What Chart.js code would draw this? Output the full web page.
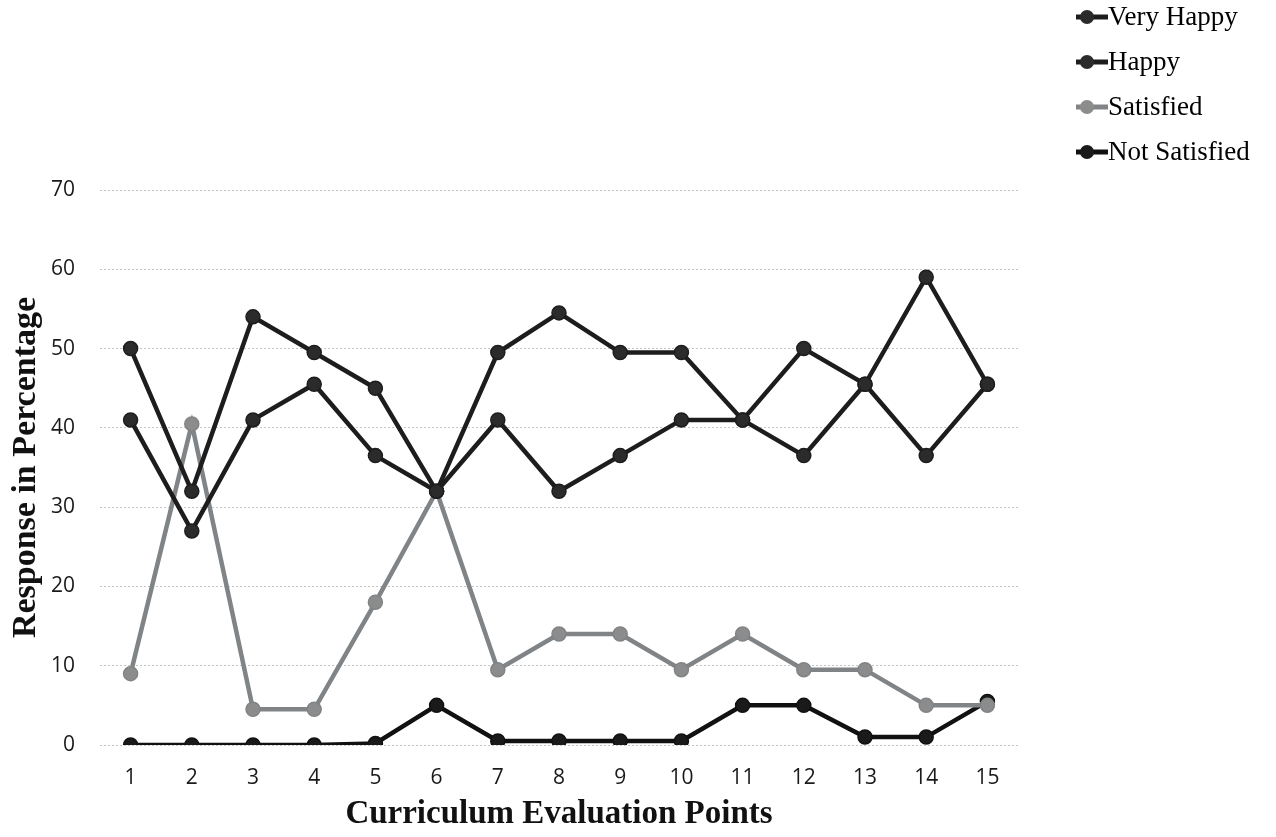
<!DOCTYPE html>
<html>
<head>
<meta charset="utf-8">
<script src="https://cdn.jsdelivr.net/npm/chart.js@4.4.1/dist/chart.umd.min.js"></script>
<style>
  html, body { margin: 0; padding: 0; background: #fff; }
  canvas { display: block; }
</style>
</head>
<body>
<canvas id="chart" width="1276" height="837"></canvas>
<script>
// values
const points = ["1","2","3","4","5","6","7","8","9","10","11","12","13","14","15"];
const veryHappy = [50, 32, 54, 49.5, 45, 32, 49.5, 54.5, 49.5, 49.5, 41, 50, 45.5, 59, 45.5];
const happy = [41, 27, 41, 45.5, 36.5, 32, 41, 32, 36.5, 41, 41, 36.5, 45.5, 36.5, 45.5];
const satisfied = [9, 40.5, 4.5, 4.5, 18, 32, 9.5, 14, 14, 9.5, 14, 9.5, 9.5, 5, 5];
const notSatisfied = [0, 0, 0, 0, 0.2, 5, 0.5, 0.5, 0.5, 0.5, 5, 5, 1, 1, 5.5];
const seriesNames = ["Very Happy", "Happy", "Satisfied", "Not Satisfied"];
const yTicks = [0, 10, 20, 30, 40, 50, 60, 70];

const dark = "#1d1d1d";
const grey = "#808486";

function series(label, data, color, pointColor) {
    return {
        label: label,
        data: data,
        borderColor: color,
        backgroundColor: pointColor,
        pointBackgroundColor: pointColor,
        pointBorderColor: color,
        pointBorderWidth: 1.5,
        borderWidth: 4.5,
        pointRadius: 7,
        tension: 0
    };
}

// legend drawn by hand: line with a dot, then serif text
const sideLegend = {
    id: "sideLegend",
    afterDraw(chart) {
        const ctx = chart.ctx;
        const rows = [17, 62, 107, 152];
        ctx.save();
        chart.data.datasets.forEach((ds, i) => {
            const y = rows[i];
            ctx.strokeStyle = ds.borderColor;
            ctx.lineWidth = 5;
            ctx.beginPath();
            ctx.moveTo(1076, y);
            ctx.lineTo(1108, y);
            ctx.stroke();
            ctx.fillStyle = ds.pointBackgroundColor;
            ctx.beginPath();
            ctx.arc(1087, y, 7, 0, Math.PI * 2);
            ctx.fill();
            ctx.fillStyle = "#000";
            ctx.font = "27px 'Liberation Serif'";
            ctx.textBaseline = "middle";
            ctx.fillText(ds.label, 1108, y + 1);
        });
        ctx.restore();
    }
};

new Chart(document.getElementById("chart"), {
    type: "line",
    data: {
        labels: points,
        datasets: [
            series(seriesNames[0], veryHappy, dark, "#2b2b2b"),
            series(seriesNames[1], happy, dark, "#2b2b2b"),
            series(seriesNames[2], satisfied, grey, "#8c8c8c"),
            series(seriesNames[3], notSatisfied, "#111", "#1a1a1a")
        ]
    },
    options: {
        responsive: false,
        animation: false,
        devicePixelRatio: 1,
        layout: { padding: { top: 190, right: 258, bottom: 3, left: 4 } },
        plugins: {
            legend: { display: false },
            tooltip: { enabled: false }
        },
        scales: {
            x: {
                offset: true,
                grid: { display: false, drawTicks: false },
                border: { display: false },
                ticks: {
                    color: "#1a1a1a",
                    padding: 20,
                    font: { family: "'Open Sans'", size: 21 }
                },
                title: {
                    display: true,
                    text: "Curriculum Evaluation Points",
                    color: "#111",
                    padding: { top: 0, bottom: 0 },
                    font: { family: "'Liberation Serif'", size: 33, weight: "bold" }
                },
                afterFit(s) { s.height = 89; }
            },
            y: {
                min: 0,
                max: 70,
                afterBuildTicks(s) { s.ticks = yTicks.map(v => ({ value: v })); },
                grid: {
                    color: "#c4c4c4",
                    lineWidth: 1,
                    drawTicks: false
                },
                border: { display: false, dash: [2, 2] },
                ticks: {
                    color: "#1a1a1a",
                    padding: 25,
                    font: { family: "'Open Sans'", size: 21 }
                },
                title: {
                    display: true,
                    text: "Response in Percentage",
                    color: "#111",
                    padding: { top: 2, bottom: 0 },
                    font: { family: "'Liberation Serif'", size: 34, weight: "bold" }
                },
                afterFit(s) { s.width = 96; }
            }
        }
    },
    plugins: [sideLegend]
});
</script>
</body>
</html>
